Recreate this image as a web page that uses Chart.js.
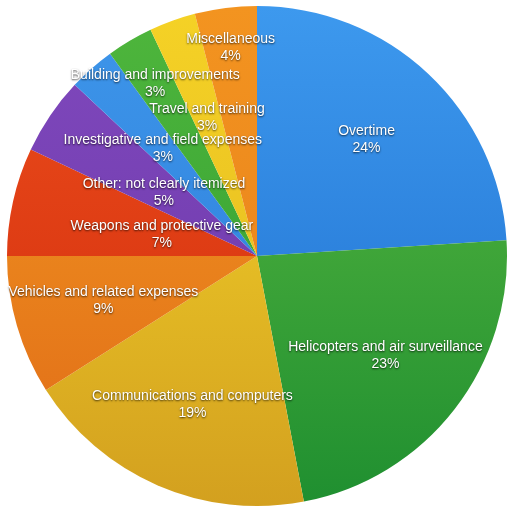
<!DOCTYPE html>
<html>
<head>
<meta charset="utf-8">
<script src="https://cdn.jsdelivr.net/npm/chart.js@4.4.1/dist/chart.umd.min.js"></script>
<style>
  html, body { margin: 0; padding: 0; background: #fff; }
  #wrap { width: 508px; height: 507px; }
</style>
</head>
<body>
<div id="wrap"><canvas id="myChart" width="508" height="507"></canvas></div>
<script>
// spending categories, clockwise from 12 o'clock
const categories = [
    'Overtime',
    'Helicopters and air surveillance',
    'Communications and computers',
    'Vehicles and related expenses',
    'Weapons and protective gear',
    'Other: not clearly itemized',
    'Investigative and field expenses',
    'Building and improvements',
    'Travel and training',
    'Miscellaneous'
];
const shares = [24, 23, 19, 9, 7, 5, 3, 3, 3, 4];

// top / bottom colours of each slice gradient
const topColors = ['#3d99ee', '#5dba41', '#f6d82a', '#f39b22', '#ec4e1c', '#8049bd', '#3e96ea', '#4fb63c', '#f5d226', '#f39420'];
const bottomColors = ['#1d6ccd', '#1f8f30', '#d3a01f', '#e06a17', '#d02a0c', '#6a36a8', '#2a7ad8', '#2c9a32', '#e0b41e', '#e57c1a'];

// how far out (fraction of radius) each label sits along the slice's middle angle
const labelRadius = [0.64, 0.65, 0.65, 0.64, 0.39, 0.45, 0.57, 0.80, 0.59, 0.84];

function sliceFill(context) {
    const chart = context.chart;
    const area = chart.chartArea;
    if (!area) return topColors[context.dataIndex];
    const g = chart.ctx.createLinearGradient(0, area.top, 0, area.bottom);
    g.addColorStop(0, topColors[context.dataIndex]);
    g.addColorStop(1, bottomColors[context.dataIndex]);
    return g;
}

const sliceLabels = {
    id: 'sliceLabels',
    afterDatasetsDraw(chart) {
        const ctx = chart.ctx;
        const meta = chart.getDatasetMeta(0);
        const total = shares.reduce((a, b) => a + b, 0);
        ctx.save();
        ctx.font = '14px "Liberation Sans", Arial, sans-serif';
        ctx.fillStyle = '#ffffff';
        ctx.textAlign = 'center';
        ctx.textBaseline = 'middle';
        ctx.shadowColor = 'rgba(0,0,0,0.75)';
        ctx.shadowOffsetX = 0;
        ctx.shadowOffsetY = 1;
        ctx.shadowBlur = 2;
        meta.data.forEach((arc, i) => {
            const p = arc.getProps(['x', 'y', 'startAngle', 'endAngle', 'outerRadius'], true);
            const mid = (p.startAngle + p.endAngle) / 2;
            const r = p.outerRadius * labelRadius[i];
            const x = p.x + Math.cos(mid) * r;
            const y = p.y + Math.sin(mid) * r;
            const pct = Math.round(shares[i] / total * 100) + '%';
            ctx.fillText(categories[i], x, y - 8.5);
            ctx.fillText(pct, x, y + 8.5);
        });
        ctx.restore();
    }
};

var ctx = document.getElementById('myChart').getContext('2d');

var myChart = new Chart(ctx, {
    type: 'pie',
    data: {
        labels: categories,
        datasets: [{
            data: shares,
            backgroundColor: sliceFill,
            borderWidth: 0
        }]
    },
    options: {
        responsive: false,
        animation: false,
        layout: { padding: { left: 7, right: 1, top: 6, bottom: 1 } },
        plugins: {
            legend: { display: false },
            tooltip: { enabled: false }
        }
    },
    plugins: [sliceLabels]
});
</script>
</body>
</html>
